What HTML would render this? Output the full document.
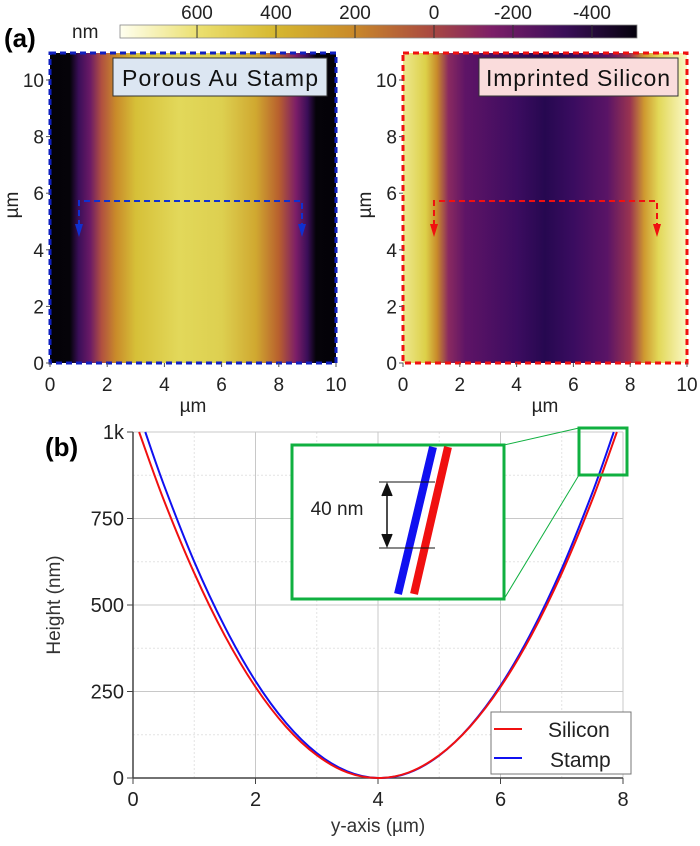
<!DOCTYPE html>
<html><head><meta charset="utf-8"><style>
body{margin:0;background:#fff;width:700px;height:841px;overflow:hidden;font-family:"Liberation Sans",sans-serif}
svg text{font-family:"Liberation Sans",sans-serif}
</style></head><body>
<svg width="700" height="841" viewBox="0 0 700 841">
<defs>
<linearGradient id="cbar" x1="0" x2="1" y1="0" y2="0">
<stop offset="0" stop-color="#fffff0"/><stop offset="0.15" stop-color="#ebe070"/><stop offset="0.3" stop-color="#d6b830"/><stop offset="0.45" stop-color="#c98a2a"/><stop offset="0.6" stop-color="#aa4a40"/><stop offset="0.72" stop-color="#7c1e68"/><stop offset="0.86" stop-color="#3a0e58"/><stop offset="1" stop-color="#05020c"/>
</linearGradient>
<linearGradient id="stampg" x1="0" x2="1" y1="0" y2="0">
<stop offset="0" stop-color="#040208"/><stop offset="0.07" stop-color="#050309"/><stop offset="0.1" stop-color="#3a0e58"/><stop offset="0.14" stop-color="#6a1a66"/><stop offset="0.18" stop-color="#b05040"/><stop offset="0.23" stop-color="#c98a2a"/><stop offset="0.3" stop-color="#d6c038"/><stop offset="0.45" stop-color="#e2d85a"/><stop offset="0.6" stop-color="#ddd050"/><stop offset="0.72" stop-color="#d0a830"/><stop offset="0.8" stop-color="#b8602e"/><stop offset="0.86" stop-color="#7c1e68"/><stop offset="0.9" stop-color="#3a0e58"/><stop offset="0.93" stop-color="#050309"/><stop offset="1" stop-color="#040208"/>
</linearGradient>
<linearGradient id="silg" x1="0" x2="1" y1="0" y2="0">
<stop offset="0" stop-color="#eee890"/><stop offset="0.08" stop-color="#dcd048"/><stop offset="0.12" stop-color="#c88a2a"/><stop offset="0.16" stop-color="#8a2a60"/><stop offset="0.22" stop-color="#5e1466"/><stop offset="0.4" stop-color="#3c0c60"/><stop offset="0.5" stop-color="#260850"/><stop offset="0.6" stop-color="#3a0c60"/><stop offset="0.72" stop-color="#5a1466"/><stop offset="0.8" stop-color="#9a3450"/><stop offset="0.85" stop-color="#cf9a30"/><stop offset="0.9" stop-color="#e2d858"/><stop offset="1" stop-color="#fbf8c8"/>
</linearGradient>
</defs>

<text x="4" y="47" font-size="26" font-weight="bold">(a)</text>
<text x="72" y="38" font-size="19" fill="#222">nm</text>
<rect x="120" y="25" width="517" height="13" fill="url(#cbar)" stroke="#888" stroke-width="0.8"/>
<g id="cbticks"></g>

<rect x="50" y="53" width="286" height="310" fill="url(#stampg)"/>
<rect x="50" y="53" width="286" height="310" fill="none" stroke="#1020c0" stroke-width="3" stroke-dasharray="6,4"/>
<rect x="113" y="58" width="214" height="38" fill="#dce6f2" stroke="#333" stroke-width="1"/>
<text x="220" y="86" font-size="23" text-anchor="middle" fill="#111" textLength="196">Porous Au Stamp</text>
<g>
<path d="M79,226 L79,201 L302,201 L302,226" fill="none" stroke="#1030d0" stroke-width="2" stroke-dasharray="6,4"/>
<path d="M75,224 L83,224 L79,237z M298,224 L306,224 L302,237z" fill="#1030d0"/>
</g>

<rect x="403" y="53" width="284" height="310" fill="url(#silg)"/>
<rect x="403" y="53" width="284" height="310" fill="none" stroke="#f01010" stroke-width="3" stroke-dasharray="6,4"/>
<rect x="479" y="58" width="199" height="38" fill="#fadcdc" stroke="#333" stroke-width="1"/>
<text x="578" y="86" font-size="23" text-anchor="middle" fill="#111" textLength="184">Imprinted Silicon</text>
<g>
<path d="M434,226 L434,201 L657,201 L657,226" fill="none" stroke="#f01010" stroke-width="2" stroke-dasharray="6,4"/>
<path d="M430,224 L438,224 L434,237z M653,224 L661,224 L657,237z" fill="#f01010"/>
</g>

<g id="imgaxes" font-size="19" fill="#222"></g>

<text x="45" y="456" font-size="26" font-weight="bold">(b)</text>
<g id="chart"></g>
</svg>
<script>
const ns='http://www.w3.org/2000/svg';
function mk(p,tag,attrs,txt){const e=document.createElementNS(ns,tag);for(const k in attrs)e.setAttribute(k,attrs[k]);if(txt!==undefined)e.textContent=txt;p.appendChild(e);return e;}
// colorbar
const cbTicks=[600,400,200,0,-200,-400];
const cbMax=795,cbMin=-514;
const cbg=document.getElementById('cbticks');
cbTicks.forEach(v=>{const x=120+(cbMax-v)/(cbMax-cbMin)*517;
const l=mk(cbg,'line',{x1:x,x2:x,y1:25,y2:38,stroke:'#333','stroke-width':1});


const t=mk(cbg,'text',{x:x,y:19,'font-size':19,'text-anchor':'middle',fill:'#222'},String(v));

});
// image axes
const imgTicks=[0,2,4,6,8,10];
const ia=document.getElementById('imgaxes');
[[50,336],[403,687]].forEach(([x0,x1],pi)=>{
 imgTicks.forEach(v=>{const x=x0+v/10*(x1-x0);const y=363-v/10*283;
  const a=mk(ia,'text',{x:x,y:391,'text-anchor':'middle'},String(v));
  
  
  const b=mk(ia,'text',{x:x0-6,y:y+7,'text-anchor':'end'},String(v));
  
  
  mk(ia,'line',{x1:x0-4,x2:x0,y1:y,y2:y,stroke:'#555'});
  mk(ia,'line',{x1:x,x2:x,y1:363,y2:367,stroke:'#555'});});
 const xt=mk(ia,'text',{x:(x0+x1)/2,y:412,'text-anchor':'middle'},'µm');
 
 
 const yt=mk(ia,'text',{x:0,y:0,'text-anchor':'middle',transform:`translate(${x0-32},205) rotate(-90)`},'µm');
 
 
});
// chart data
const xsSilicon=[0.1,0.5,1,1.5,2,2.5,3,3.5,4,4.5,5,5.5,6,6.5,7,7.5,7.9];
const hSilicon=[1000,805,592,411,263,148,66,16,0,16,66,148,263,411,592,805,1000];
const xsStamp=[0.2,0.5,1,1.5,2,2.5,3,3.5,4,4.5,5,5.5,6,6.5,7,7.5,7.85];
const hStamp=[1000,849,625,436,280,159,72,19,0,15,65,149,267,419,605,825,1000];
const xTicks=[0,2,4,6,8];
const yTicks=[0,250,500,750,1000];
const yTickLabels=['0','250','500','750','1k'];
const X=v=>133+v/8*490, Y=v=>778-v/1000*346;
const c=document.getElementById('chart');
for(let v=0;v<=8;v+=1){mk(c,'line',{x1:X(v),x2:X(v),y1:Y(1000),y2:Y(0),stroke:v%2?'#e4e4e4':'#c8c8c8','stroke-width':1,'stroke-dasharray':v%2?'2,2':''});}
for(let v=0;v<=1000;v+=125){mk(c,'line',{x1:X(0),x2:X(8),y1:Y(v),y2:Y(v),stroke:v%250?'#e4e4e4':'#c8c8c8','stroke-width':1,'stroke-dasharray':v%250?'2,2':''});}
mk(c,'line',{x1:X(0),x2:X(0),y1:Y(1000),y2:Y(0),stroke:'#444','stroke-width':1.5});
mk(c,'line',{x1:X(0),x2:X(8),y1:Y(0),y2:Y(0),stroke:'#444','stroke-width':1.5});
xTicks.forEach(v=>{mk(c,'line',{x1:X(v),x2:X(v),y1:Y(0),y2:Y(0)+6,stroke:'#444'});
 const t=mk(c,'text',{x:X(v),y:806,'font-size':20,'text-anchor':'middle',fill:'#222'},String(v));
 
 });
yTicks.forEach((v,i)=>{mk(c,'line',{x1:X(0)-6,x2:X(0),y1:Y(v),y2:Y(v),stroke:'#444'});
 const t=mk(c,'text',{x:X(0)-9,y:Y(v)+7,'font-size':20,'text-anchor':'end',fill:'#222'},yTickLabels[i]);
 
 });
const xt=mk(c,'text',{x:X(4),y:832,'font-size':19,'text-anchor':'middle',fill:'#333'},'y-axis (µm)');


const yt=mk(c,'text',{x:0,y:0,'font-size':19,'text-anchor':'middle',fill:'#333',transform:'translate(60,605) rotate(-90)'},'Height (nm)');


function curve(xs,hs,col,name){
 const P=xs.map((x,i)=>[X(x),Y(hs[i])]);
 let d='M'+P[0][0].toFixed(1)+','+P[0][1].toFixed(1);
 for(let i=0;i<P.length-1;i++){const p0=P[i-1]||P[i],p1=P[i],p2=P[i+1],p3=P[i+2]||p2;
  const c1=[p1[0]+(p2[0]-p0[0])/6,p1[1]+(p2[1]-p0[1])/6],c2=[p2[0]-(p3[0]-p1[0])/6,p2[1]-(p3[1]-p1[1])/6];
  d+=` C${c1[0].toFixed(1)},${c1[1].toFixed(1)} ${c2[0].toFixed(1)},${c2[1].toFixed(1)} ${p2[0].toFixed(1)},${p2[1].toFixed(1)}`;}
 const p=mk(c,'path',{d:d,fill:'none',stroke:col,'stroke-width':2,'stroke-linejoin':'round'});
 
 }
curve(xsStamp,hStamp,'#1010f0','stamp-curve');
curve(xsSilicon,hSilicon,'#f01010','silicon-curve');
const zb=mk(c,'rect',{x:579,y:428,width:48,height:47,fill:'none',stroke:'#10b040','stroke-width':3});


mk(c,'line',{x1:504,x2:579,y1:445,y2:428,stroke:'#10b040','stroke-width':1});
mk(c,'line',{x1:504,x2:579,y1:599,y2:475,stroke:'#10b040','stroke-width':1});
const ib=mk(c,'rect',{x:292,y:445,width:212,height:154,fill:'#fff',stroke:'#10b040','stroke-width':3});


mk(c,'line',{x1:398,x2:433,y1:594,y2:447,stroke:'#1010f0','stroke-width':8});
mk(c,'line',{x1:414,x2:448,y1:594,y2:447,stroke:'#f01010','stroke-width':8});
mk(c,'line',{x1:379,x2:435,y1:482,y2:482,stroke:'#111','stroke-width':1});
mk(c,'line',{x1:379,x2:435,y1:548,y2:548,stroke:'#111','stroke-width':1});
mk(c,'path',{d:'M387,484 L387,546 M382,496 L387,484 L392,496 M382,534 L387,546 L392,534',stroke:'#111',fill:'#111','stroke-width':1.5});
const il=mk(c,'text',{x:337,y:515,'font-size':19,'text-anchor':'middle',fill:'#222'},'40 nm');


const lg=mk(c,'g',{});


mk(lg,'rect',{x:491,y:712,width:140,height:62,fill:'#fff',stroke:'#777'});
mk(lg,'line',{x1:494,x2:522,y1:729,y2:729,stroke:'#f01010','stroke-width':2});
mk(lg,'line',{x1:494,x2:522,y1:758,y2:758,stroke:'#1010f0','stroke-width':2});
const l1=mk(lg,'text',{x:548,y:737,'font-size':21,fill:'#222'},'Silicon');


const l2=mk(lg,'text',{x:550,y:767,'font-size':21,fill:'#222'},'Stamp');


</script>
</body></html>
